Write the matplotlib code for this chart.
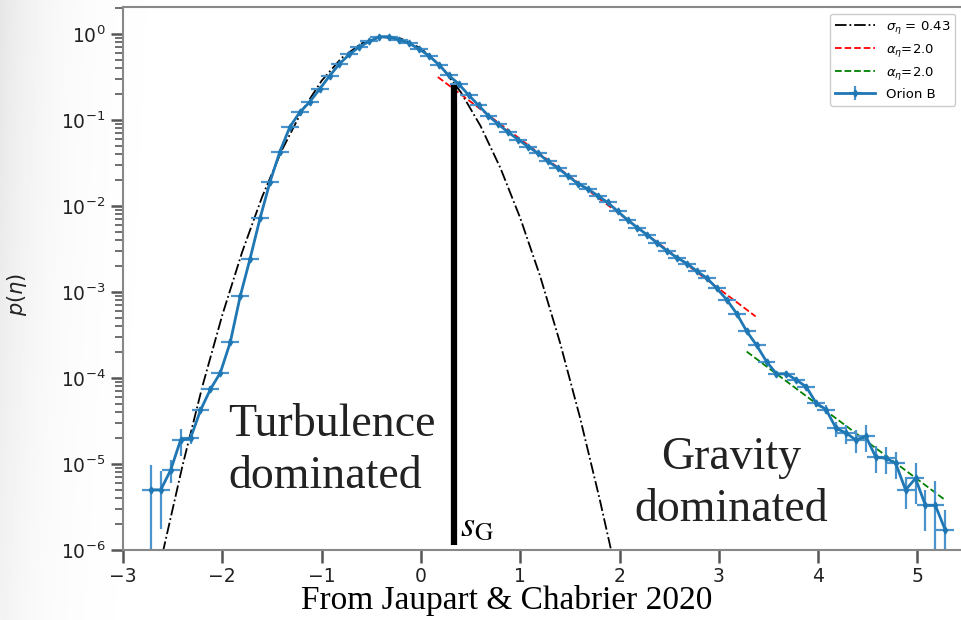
import numpy as np
import matplotlib.pyplot as plt

# Orion B column-density PDF
eta = [-2.72, -2.62, -2.52, -2.42, -2.32, -2.22, -2.12, -2.02, -1.92, -1.82,
       -1.72, -1.62, -1.52, -1.42, -1.32, -1.22, -1.12, -1.02, -0.92, -0.82,
       -0.72, -0.62, -0.52, -0.42, -0.32, -0.22, -0.12, -0.02, 0.08, 0.18,
       0.28, 0.38, 0.48, 0.58, 0.68, 0.78, 0.88, 0.98, 1.08, 1.18,
       1.28, 1.38, 1.48, 1.58, 1.68, 1.78, 1.88, 1.98, 2.08, 2.18,
       2.28, 2.38, 2.48, 2.58, 2.68, 2.78, 2.88, 2.98, 3.08, 3.18,
       3.28, 3.38, 3.48, 3.58, 3.68, 3.78, 3.88, 3.98, 4.08, 4.18,
       4.28, 4.38, 4.48, 4.58, 4.68, 4.78, 4.88, 4.98, 5.08, 5.18, 5.28]
p_eta = [5.0e-6, 5.0e-6, 8.5e-6, 1.9e-5, 2.0e-5, 4.2e-5, 7.4e-5, 1.15e-4, 2.6e-4, 8.9e-4,
         2.45e-3, 7.2e-3, 1.9e-2, 4.3e-2, 8.3e-2, 0.123, 0.162, 0.229, 0.325, 0.45,
         0.58, 0.71, 0.82, 0.93, 0.93, 0.86, 0.78, 0.67, 0.56, 0.44,
         0.33, 0.263, 0.195, 0.148, 0.112, 0.089, 0.072, 0.059, 0.049, 0.041,
         0.033, 0.0275, 0.0224, 0.0182, 0.0158, 0.0132, 0.011, 0.0087, 0.0069, 0.0056,
         0.0046, 0.0037, 0.0030, 0.0025, 0.00214, 0.00174, 0.00145, 0.0011, 8.1e-4, 5.6e-4,
         3.5e-4, 2.4e-4, 1.55e-4, 1.12e-4, 1.12e-4, 9.5e-5, 7.9e-5, 5.1e-5, 4.3e-5, 2.6e-5,
         2.3e-5, 1.9e-5, 2.1e-5, 1.2e-5, 1.17e-5, 1.02e-5, 5.0e-6, 6.8e-6, 3.3e-6, 3.3e-6, 1.7e-6]
rel_err = [0.95, 0.65, 0.3, 0.35, 0.15, 0.1, 0.08, 0.08, 0.08, 0.05,
           0.04, 0.03, 0.03, 0.03, 0.03, 0.03, 0.03, 0.03, 0.03, 0.03,
           0.03, 0.03, 0.03, 0.03, 0.03, 0.03, 0.03, 0.03, 0.03, 0.03,
           0.03, 0.03, 0.03, 0.03, 0.03, 0.03, 0.03, 0.03, 0.03, 0.03,
           0.03, 0.03, 0.03, 0.03, 0.03, 0.03, 0.03, 0.03, 0.03, 0.03,
           0.03, 0.03, 0.03, 0.03, 0.04, 0.04, 0.04, 0.05, 0.05, 0.06,
           0.08, 0.08, 0.08, 0.08, 0.08, 0.08, 0.08, 0.1, 0.12, 0.2,
           0.25, 0.3, 0.35, 0.35, 0.35, 0.35, 0.4, 0.5, 0.5, 0.9, 0.7]

# lognormal fit, sigma_eta = 0.43
fit_x = [-2.6, -2.4, -2.2, -2.0, -1.8, -1.6, -1.4, -1.2, -1.0, -0.8, -0.6, -0.4,
         -0.2, 0.0, 0.2, 0.4, 0.6, 0.8, 1.0, 1.2, 1.4, 1.6, 1.8, 1.9, 2.0]
fit_y = [9.3e-7, 9.66e-6, 8.05e-5, 5.4e-4, 2.92e-3, 1.27e-2, 4.46e-2, 0.126, 0.286, 0.525,
         0.775, 0.921, 0.882, 0.680, 0.423, 0.212, 8.53e-2, 2.77e-2, 7.24e-3, 1.53e-3,
         2.59e-4, 3.53e-5, 3.89e-6, 1.19e-6, 3.5e-7]

# power-law tails
red_x, red_y = [0.17, 3.37], [0.316, 5.2e-4]
green_x, green_y = [3.28, 5.28], [2.03e-4, 3.8e-6]

s_G, p_sG = 0.33, 0.255

fig = plt.figure(figsize=(9.62, 6.2), dpi=100)

# faint slide shadow along the left edge
GX, GY = np.meshgrid(np.arange(962), np.arange(620))
shade = 1 - 0.10 * np.exp(-GX / 45) * (0.5 + 0.5 * GY / 620)
fig.figimage(shade, cmap='gray', vmin=0, vmax=1, origin='lower', zorder=-1)

ax = fig.add_axes([123 / 962, 1 - 550 / 620, 1 - 123 / 962, (550 - 7) / 620])
ax.patch.set_alpha(0)

ax.plot(fit_x, fit_y, color='black', ls='-.', lw=1.3, label=r'$\sigma_\eta$ = 0.43')
ax.plot(red_x, red_y, color='red', ls='--', lw=1.3, label=r'$\alpha_\eta$=2.0')
ax.plot(green_x, green_y, color='green', ls='--', lw=1.3, label=r'$\alpha_\eta$=2.0')

yerr = np.array(p_eta) * np.array(rel_err)
ax.errorbar(eta, p_eta, yerr=yerr, xerr=0.09, color='#1f77b4', lw=2,
            marker='d', ms=3.5, ecolor='#4a93cc', elinewidth=1.6,
            capsize=0, label='Orion B')

ax.plot([s_G, s_G], [1.15e-6, p_sG], color='black', lw=4.5, solid_capstyle='butt')

ax.set_yscale('log')
ax.set_xlim(-3, (962 - 421) / 99.3)
ax.set_ylim(1e-6, 2.06)
ax.set_xticks([-3, -2, -1, 0, 1, 2, 3, 4, 5])
ax.tick_params(axis='both', which='major', labelsize=13.5, length=9, width=1.8,
               colors='#555555', labelcolor='#222222')
ax.tick_params(axis='y', which='minor', length=6, width=1.2, colors='#555555')
for side in ['left', 'bottom', 'top']:
    ax.spines[side].set_color('#888888')
    ax.spines[side].set_linewidth(1.5)
ax.spines['right'].set_visible(False)

ax.set_ylabel(r'$p(\eta)$', fontsize=15, color='#222222')
ax.yaxis.set_label_coords(-0.112, 0.47)

serif = 'Liberation Serif'
ax.set_xlabel('From Jaupart & Chabrier 2020', fontsize=24, family=serif,
              color='black', va='baseline')
ax.xaxis.set_label_coords((507 - 123) / 839, (550 - 609) / 543)

ax.legend(loc='upper right', fontsize=9.5, labelspacing=0.45, handlelength=3.0,
          framealpha=1, edgecolor='#cccccc', borderaxespad=0.5)

ax.text(228, 620 - 488, 'Turbulence\ndominated', transform=None, fontsize=33,
        family=serif, color='#222222', va='baseline', ha='left', linespacing=1.3)
ax.text(731, 620 - 521, 'Gravity\ndominated', transform=None, fontsize=33,
        family=serif, color='#222222', va='baseline', ha='center', linespacing=1.3)
ax.text(460, 620 - 536, r'$s_{\mathrm{G}}$', transform=None, fontsize=26,
        color='black', va='baseline', ha='left', math_fontfamily='stix')

fig.savefig('out.png', dpi=100)
